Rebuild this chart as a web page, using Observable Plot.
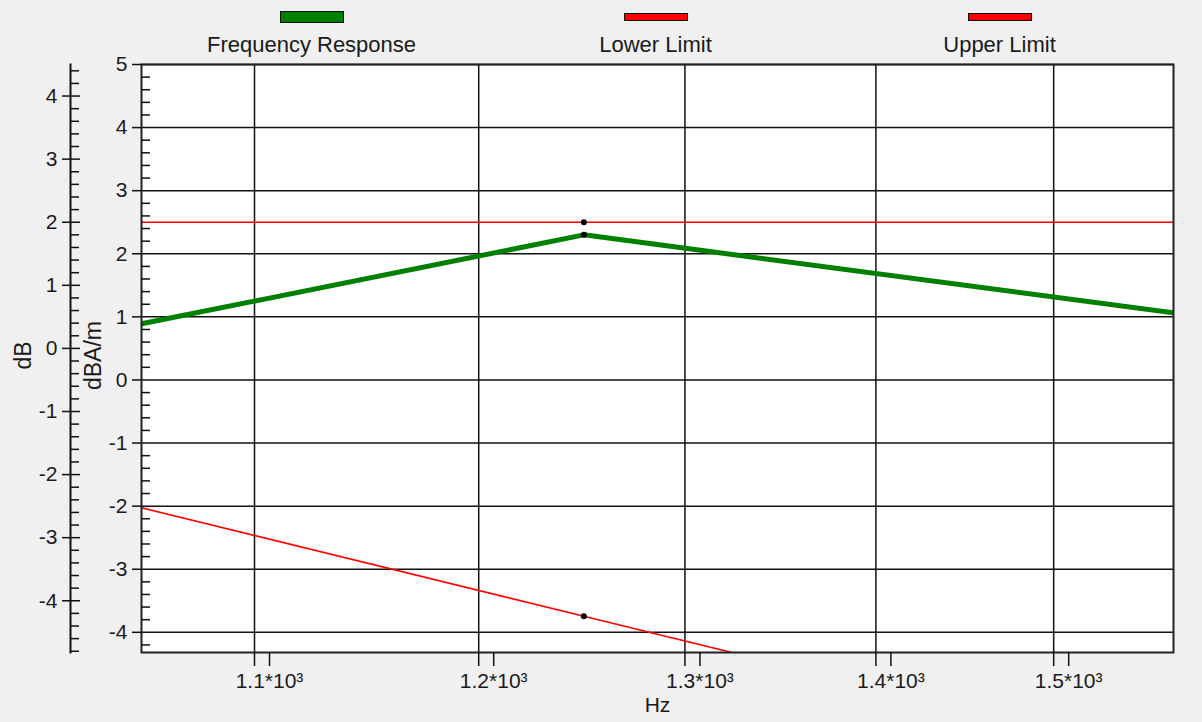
<!DOCTYPE html>
<html><head><meta charset="utf-8">
<script src="https://cdn.jsdelivr.net/npm/d3@7"></script>
<script src="https://cdn.jsdelivr.net/npm/@observablehq/plot@0.6"></script>
<style>
html,body{margin:0;padding:0;background:#f0f0f0;}
#wrap{position:relative;width:1202px;height:722px;overflow:hidden;font-family:"Liberation Sans",Arial,sans-serif;}
#wrap svg{position:absolute;left:0;top:0;}
.sw{position:absolute;box-sizing:border-box;border:1.5px solid #111;}
.lab{position:absolute;font-size:22px;line-height:22px;color:#1a1a1a;white-space:nowrap;transform:translateX(-50%);}
</style></head><body><div id="wrap"></div>
<script>
// ---- data (y values in dBA/m, the plot's gridded axis) ----
const seriesNames = ["Frequency Response", "Lower Limit", "Upper Limit"];
const seriesColors = ["#008000", "#ff0000", "#ff0000"];
const bandHz = [1000, 1250, 1600];
const freqResponse = [0.467, 2.30, 0.966];
const lowerLimit = [-1.511, -3.745, -6.216];
const upperLimit = [2.5, 2.5, 2.5];
const xTickValues = [1100, 1200, 1300, 1400, 1500];
const yTickValues = [-4, -3, -2, -1, 0, 1, 2, 3, 4, 5];
const dbTickValues = [-4, -3, -2, -1, 0, 1, 2, 3, 4];
const dbOffset = 0.5; // dB axis value = dBA/m value - 0.5
const xDomain = [1052.8, 1571.4];
const yDomain = [-4.32, 5];

// ---- layout ----
const W = 1202, H = 722;
const mL = 141, mR = 29, mT = 64, mB = 70;
const ink = "#111";
const txt = "#1a1a1a";

const rows = [];
[freqResponse, lowerLimit, upperLimit].forEach((vals, s) => {
  bandHz.forEach((hz, i) => rows.push({series: seriesNames[s], hz, v: vals[i]}));
});

const innerMinor = d3.range(-21, 25).map(i => Math.round(i * 2) / 10).filter(v => !Number.isInteger(v));
const dbMinor = d3.range(-24, 23).map(i => Math.round(i * 2) / 10).filter(v => !Number.isInteger(v)).map(v => v + dbOffset);
const dbMajor = dbTickValues.map(v => v + dbOffset);
const fmt = d => String(Math.round(d * 10) / 10);

const chart = Plot.plot({
  width: W, height: H,
  marginLeft: mL, marginRight: mR, marginTop: mT, marginBottom: mB,
  style: {background: "transparent", fontFamily: "'Liberation Sans', Arial, sans-serif", fontSize: "21px", color: txt, overflow: "visible"},
  x: {type: "log", domain: xDomain},
  y: {domain: yDomain},
  color: {domain: seriesNames, range: seriesColors},
  marks: [
    Plot.frame({fill: "white", stroke: null}),
    Plot.gridX(xTickValues, {stroke: ink, strokeOpacity: 1, strokeWidth: 1.5}),
    Plot.gridY(yTickValues, {stroke: ink, strokeOpacity: 1, strokeWidth: 1.5}),
    Plot.line(rows.filter(d => d.series !== seriesNames[0]), {x: "hz", y: "v", z: "series", stroke: "series", strokeWidth: 1.6, clip: true}),
    Plot.line(rows.filter(d => d.series === seriesNames[0]), {x: "hz", y: "v", stroke: "series", strokeWidth: 5, clip: true}),
    Plot.dot(rows, {x: "hz", y: "v", r: 3, fill: "#000", stroke: null, clip: true}),
    Plot.frame({stroke: "#222", strokeWidth: 2}),
    // x axis
    Plot.axisX(xTickValues, {anchor: "bottom", tickSize: 14, tickPadding: 7, dx: 15, stroke: ink, strokeWidth: 1.5,
      tickFormat: d => `${(d / 1000).toFixed(1)}*10³`, label: null}),
    Plot.axisX(xTickValues, {anchor: "bottom", tickSize: 14, text: null, stroke: ink, strokeWidth: 1.5, label: null}),
    // inner (dBA/m) axis
    Plot.axisY(yTickValues, {anchor: "left", tickSize: 9, tickPadding: 5, stroke: ink, strokeWidth: 1.5, tickFormat: fmt, label: null}),
    Plot.axisY(innerMinor, {anchor: "left", tickSize: -9, text: null, stroke: ink, strokeWidth: 1.5, label: null}),
    // outer (dB) axis
    Plot.frame({anchor: "left", dx: -71, stroke: ink, strokeWidth: 2}),
    Plot.axisY(dbMajor, {anchor: "left", dx: -71, tickSize: 8, tickPadding: 5, stroke: ink, strokeWidth: 1.5,
      tickFormat: d => fmt(d - dbOffset), label: null}),
    Plot.axisY(dbMajor, {anchor: "left", dx: -71, tickSize: -10, text: null, stroke: ink, strokeWidth: 1.5, label: null}),
    Plot.axisY(dbMinor, {anchor: "left", dx: -71, tickSize: -9, text: null, stroke: ink, strokeWidth: 1.5, label: null}),
    // axis titles
    Plot.text(["dB"], {text: d => d, frameAnchor: "left", textAnchor: "middle", dx: -118, dy: -3, rotate: -90, fontSize: 23, fill: txt}),
    Plot.text(["dBA/m"], {text: d => d, frameAnchor: "left", textAnchor: "middle", dx: -48, dy: -3, rotate: -90, fontSize: 23, fill: txt}),
    Plot.text(["Hz"], {text: d => d, frameAnchor: "bottom", dy: 59, fontSize: 21, fill: txt})
  ]
});

const wrap = document.getElementById("wrap");
wrap.appendChild(chart);

// legend above the plot frame, one item per third of the frame width
const fw = W - mL - mR;
seriesNames.forEach((name, i) => {
  const cx = mL + fw * (i + 0.5) / 3 - 1.5;
  const sw = document.createElement("div");
  sw.className = "sw";
  const h = i === 0 ? 12 : 8;
  sw.style.cssText = `left:${cx - 32}px;top:${i === 0 ? 11 : 13}px;width:64px;height:${h}px;background:${seriesColors[i]};`;
  wrap.appendChild(sw);
  const lab = document.createElement("div");
  lab.className = "lab";
  lab.style.left = cx + "px";
  lab.style.top = "34px";
  lab.textContent = name;
  wrap.appendChild(lab);
});
</script></body></html>
